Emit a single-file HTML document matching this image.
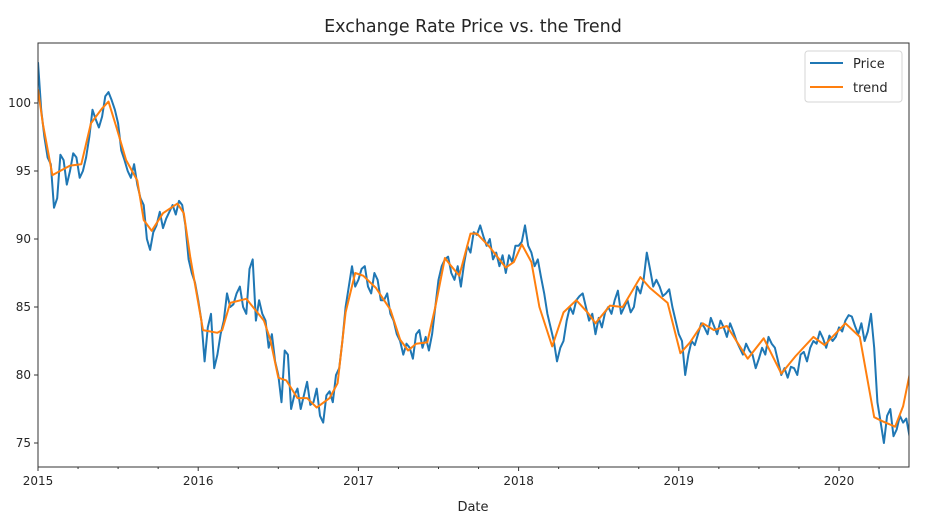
<!DOCTYPE html>
<html><head><meta charset="utf-8"><style>
body{margin:0;background:#fff;}
svg text{font-family:"DejaVu Sans","Liberation Sans",sans-serif;fill:#262626;}
</style></head><body>
<svg id="chart" width="941" height="512" viewBox="0 0 941 512" xmlns="http://www.w3.org/2000/svg">
<text x="473" y="32" text-anchor="middle" font-size="17.5">Exchange Rate Price vs. the Trend</text>
<g id="plot"></g>
<g id="axes"></g>
<text x="473" y="511" text-anchor="middle" font-size="13">Date</text>
<g>
<rect x="805" y="51" width="97" height="51" rx="3" fill="#fff" stroke="#ccc" stroke-opacity="0.8"/>
<line x1="810" y1="63" x2="843" y2="63" stroke="#1f77b4" stroke-width="2"/>
<text x="853" y="68" font-size="13">Price</text>
<line x1="810" y1="87" x2="843" y2="87" stroke="#ff7f0e" stroke-width="2"/>
<text x="853" y="92" font-size="13">trend</text>
</g>
</svg>
<script>
const priceValues=[103.0,99.5,97.5,96,95.5,92.3,93.0,96.2,95.8,94,95.0,96.3,96.0,94.5,95.0,96,97.5,99.5,98.8,98.2,99.0,100.5,100.8,100.2,99.5,98.5,96.5,95.8,95.0,94.5,95.5,94,93.0,92.5,90.0,89.2,90.5,91,92.0,90.8,91.5,92,92.5,91.8,92.8,92.5,91.0,88.5,87.5,86.8,85.5,84,81.0,83.5,84.5,80.5,81.5,83,84.0,86,85.0,85.2,86.0,86.5,85.0,84.5,87.8,88.5,84.0,85.5,84.5,84,82.0,83,81.0,80,78.0,81.8,81.5,77.5,78.5,79,77.5,78.5,79.5,77.8,78.0,79,77.0,76.5,78.5,78.8,78.0,80,80.5,82.5,85.0,86.5,88.0,86.5,87.0,87.8,88.0,86.5,86.0,87.5,87.0,85.5,85.5,86,84.5,84,83.0,82.5,81.5,82.3,82.0,81.2,83.0,83.3,82.0,82.8,81.8,83,85.0,87,88.0,88.5,88.7,87.5,87.0,88,86.5,88.2,89.5,89,90.5,90.3,91.0,90.2,89.5,90,88.5,89,88.0,88.8,87.5,88.8,88.3,89.5,89.5,89.8,91.0,89.5,89.0,88,88.5,87.2,86.0,84.5,83.5,82.5,81.0,82,82.5,84,85.0,84.5,85.5,85.8,86.0,85,84.0,84.5,83.0,84.2,83.5,84.6,85.0,84.5,85.5,86.2,84.5,85,85.5,84.6,85.0,86.5,86.0,87,89.0,87.8,86.5,87,86.5,85.8,86.0,86.3,85.0,84,83.0,82.5,80.0,81.5,82.5,82.2,83.0,83.8,83.5,83,84.2,83.6,83.0,84,83.5,82.8,83.8,83.2,82.5,82,81.5,82.3,81.8,81.5,80.5,81.2,82.0,81.5,82.8,82.3,82.0,81,80.0,80.5,79.8,80.6,80.5,80,81.5,81.7,81.0,82,82.5,82.3,83.2,82.7,82.0,82.9,82.5,82.8,83.5,83.2,84.0,84.4,84.3,83.6,83.0,83.8,82.5,83.2,84.5,82,78.0,76.5,75.0,77,77.5,75.5,76.0,77,76.5,76.8,75.5,77,80.5];
const priceStartYear=2015.0;
const priceStepYears=0.02;
const trendYears=[0,0.03,0.09,0.2,0.27,0.33,0.4,0.44,0.49,0.55,0.62,0.66,0.71,0.78,0.87,0.91,0.95,0.99,1.03,1.12,1.15,1.2,1.3,1.41,1.45,1.5,1.55,1.62,1.68,1.74,1.82,1.87,1.92,1.98,2.03,2.11,2.2,2.26,2.31,2.36,2.43,2.48,2.54,2.58,2.63,2.7,2.74,2.82,2.92,2.97,3.02,3.08,3.13,3.21,3.28,3.36,3.43,3.48,3.57,3.65,3.76,3.82,3.93,4.01,4.07,4.15,4.22,4.3,4.43,4.53,4.64,4.73,4.84,4.91,5.04,5.13,5.22,5.27,5.35,5.4,5.44];
const trendValues=[101.0,98.5,94.7,95.4,95.5,98.5,99.6,100.1,98.2,95.8,94.3,91.4,90.6,91.9,92.6,91.9,88.7,86.0,83.3,83.1,83.3,85.3,85.6,84.0,82.6,79.8,79.6,78.3,78.3,77.6,78.3,79.4,84.6,87.5,87.3,86.4,84.8,82.6,81.8,82.3,82.4,85.0,88.6,88.0,87.3,90.4,90.4,89.4,87.9,88.3,89.6,88.3,85.0,82.1,84.6,85.5,84.6,83.8,85.1,85.0,87.2,86.4,85.3,81.6,82.4,83.8,83.3,83.6,81.2,82.7,80.1,81.4,82.8,82.2,83.8,82.8,76.9,76.6,76.2,77.7,80.0];
const yTicks=[75,80,85,90,95,100];
const xTicks=[2015,2016,2017,2018,2019,2020];
const xMinor=[2015.25,2015.5,2015.75,2016.25,2016.5,2016.75,2017.25,2017.5,2017.75,2018.25,2018.5,2018.75,2019.25,2019.5,2019.75,2020.25];

const L=38,R=909,T=43,B=467;
const x=yr=>L+(yr-2015)*160.2;
const y=v=>103+(100-v)*13.6;
const NS="http://www.w3.org/2000/svg";
const plot=document.getElementById('plot'),axes=document.getElementById('axes');
function mk(tag,attrs,parent){const e=document.createElementNS(NS,tag);for(const k in attrs)e.setAttribute(k,attrs[k]);parent.appendChild(e);return e;}
const clip=mk('clipPath',{id:'cp'},plot);mk('rect',{x:L,y:T,width:R-L,height:B-T},clip);
let d=priceValues.map((v,i)=>(i?'L':'M')+x(priceStartYear+i*priceStepYears).toFixed(1)+','+y(v).toFixed(1)).join('');
const pl=mk('path',{d:d,fill:'none',stroke:'#1f77b4','stroke-width':2,'stroke-linejoin':'round','clip-path':'url(#cp)'},plot);


d=trendValues.map((v,i)=>(i?'L':'M')+x(2015+trendYears[i]).toFixed(1)+','+y(v).toFixed(1)).join('');
const tl=mk('path',{d:d,fill:'none',stroke:'#ff7f0e','stroke-width':2,'stroke-linejoin':'round','clip-path':'url(#cp)'},plot);


const fr=mk('rect',{x:L,y:T,width:R-L,height:B-T,fill:'none',stroke:'#333','stroke-width':1},axes);


yTicks.forEach(v=>{
  mk('line',{x1:L-4,x2:L,y1:y(v),y2:y(v),stroke:'#333'},axes);
  const t=mk('text',{x:L-7,y:y(v)+4,'text-anchor':'end','font-size':12},axes);t.textContent=v;
  
  
});
xTicks.forEach(v=>{
  mk('line',{x1:x(v),x2:x(v),y1:B,y2:B+4,stroke:'#333'},axes);
  const t=mk('text',{x:x(v),y:B+18,'text-anchor':'middle','font-size':12},axes);t.textContent=v;
  
  
});
xMinor.forEach(v=>mk('line',{x1:x(v),x2:x(v),y1:B,y2:B+2,stroke:'#333'},axes));
</script>
</body></html>
